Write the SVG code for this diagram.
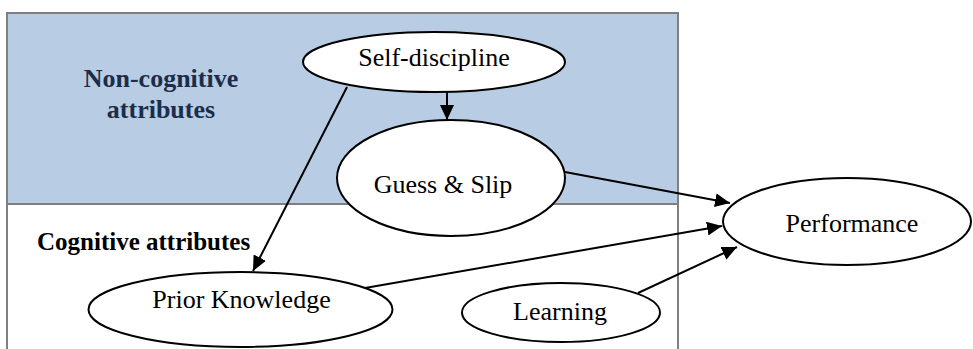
<svg xmlns="http://www.w3.org/2000/svg" width="973" height="349" viewBox="0 0 973 349">
<style>
.node ellipse{fill:#ffffff;stroke:#000000;stroke-width:2}
text{font-family:'Liberation Serif','DejaVu Serif',serif}
.lbl{font-size:26px;fill:#000000;text-anchor:middle}
.grp{font-weight:bold}
.edge{stroke:#000000;stroke-width:2;fill:none;marker-end:url(#arrow)}
</style>
<defs>
<marker id="arrow" markerUnits="userSpaceOnUse" markerWidth="16" markerHeight="14" refX="15" refY="7" orient="auto">
<path d="M0,0 L15,7 L0,14 z" fill="#000000"/>
</marker>
</defs>
<g id="panels">
<rect x="7" y="13" width="671" height="191" fill="#b8cce4"/>
<rect x="7" y="204" width="671" height="160" fill="#ffffff"/>
<rect x="7" y="13" width="671" height="351" fill="none" stroke="#7f7f7f" stroke-width="2"/>
<line x1="7" y1="204" x2="678" y2="204" stroke="#7f7f7f" stroke-width="2"/>
<text class="grp" font-family="Liberation Serif, serif" x="161" y="87" font-size="26" fill="#1c2d4a" text-anchor="middle">Non-cognitive</text>
<text class="grp" font-family="Liberation Serif, serif" x="161" y="118" font-size="26" fill="#1c2d4a" text-anchor="middle">attributes</text>
<text class="grp" font-family="Liberation Serif, serif" x="37" y="250" font-size="25" fill="#000000">Cognitive attributes</text>
</g>
<g id="connectors">
<line class="edge" x1="447" y1="92" x2="447" y2="120"/>
<line class="edge" x1="347" y1="87" x2="253" y2="271"/>
<line class="edge" x1="565" y1="172" x2="730" y2="203"/>
<line class="edge" x1="365" y1="288" x2="722" y2="226"/>
<line class="edge" x1="638" y1="293" x2="737" y2="247"/>
</g>
<g id="self-discipline" class="node">
<ellipse cx="434" cy="62" rx="131" ry="30"/>
<text class="lbl" font-family="Liberation Serif, serif" x="434" y="66">Self-discipline</text>
</g>
<g id="guess-slip" class="node">
<ellipse cx="451" cy="178" rx="114" ry="58"/>
<text class="lbl" font-family="Liberation Serif, serif" x="443" y="193">Guess &amp; Slip</text>
</g>
<g id="prior-knowledge" class="node">
<ellipse cx="240.5" cy="309.5" rx="152" ry="37.5"/>
<text class="lbl" font-family="Liberation Serif, serif" x="241.5" y="308">Prior Knowledge</text>
</g>
<g id="learning" class="node">
<ellipse cx="561" cy="312.5" rx="99" ry="29.5"/>
<text class="lbl" font-family="Liberation Serif, serif" x="560" y="320">Learning</text>
</g>
<g id="performance" class="node">
<ellipse cx="847" cy="221.5" rx="124" ry="43.5"/>
<text class="lbl" font-family="Liberation Serif, serif" x="852" y="232">Performance</text>
</g>
</svg>
